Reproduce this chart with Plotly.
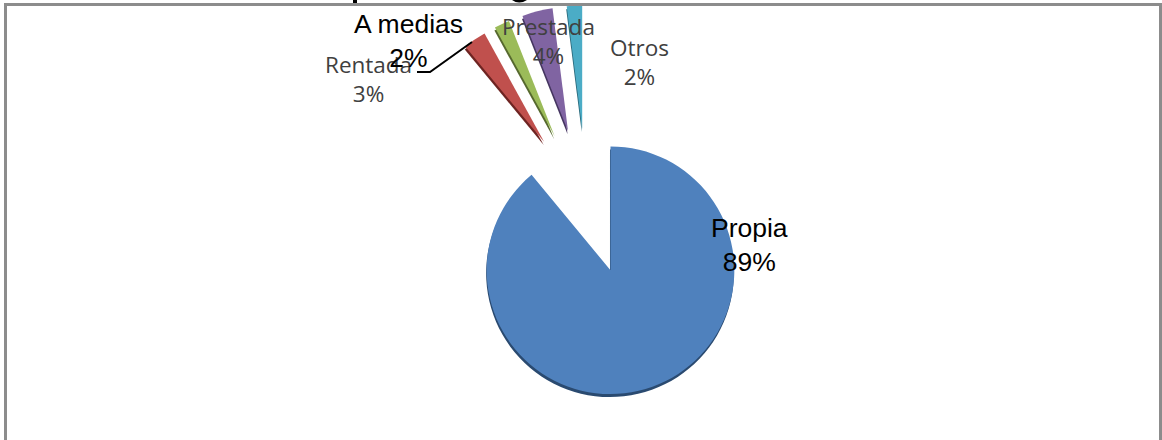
import plotly.graph_objects as go

labels = ["Propia", "Rentada", "A medias", "Prestada", "Otros"]
values = [89, 3, 2, 4, 2]
pulls = [0.56, 0.615, 0.615, 0.615, 0.615]
colors = ["#4f81bd", "#c0504d", "#9bbb59", "#8064a2", "#4bacc6"]
shadow_colors = ["#2a4a70", "#6e2422", "#56692e", "#453560", "#2a6a7c"]

W = 1162
H = 440


def pie_domain(cx, cy, half):
    return {
        "x": [(cx - half) / W, (cx + half) / W],
        "y": [1 - (cy + half) / H, 1 - (cy - half) / H],
    }


def pie_trace(colours, cx, cy):
    return go.Pie(
        labels=labels,
        values=values,
        pull=pulls,
        sort=False,
        direction="clockwise",
        rotation=0,
        textinfo="none",
        hoverinfo="label+percent",
        showlegend=False,
        marker={"colors": colours, "line": {"width": 0}},
        domain=pie_domain(cx, cy, 200),
    )


fig = go.Figure()
# Note the darker copy sits a little lower and gives the bevel edge
fig.add_trace(pie_trace(shadow_colors, 586.5, 208))
fig.add_trace(pie_trace(colors, 587, 205))


def label(name, value, x, y, size, font, color):
    fig.add_annotation(
        x=x / W, y=1 - y / H, xref="paper", yref="paper",
        text=f"{name}<br>{value}%", showarrow=False,
        font={"size": size, "family": font, "color": color},
        align="center", xanchor="center", yanchor="middle",
    )


label("Propia", values[0], 749, 245, 26.5, "Liberation Sans", "#000000")
label("Rentada", values[1], 368, 79, 22.5, "Open Sans", "#404040")
label("A medias", values[2], 409, 41, 26.5, "Liberation Sans", "#000000")
label("Prestada", values[3], 548, 41, 22.5, "Open Sans", "#404040")
label("Otros", values[4], 639, 62, 22.5, "Open Sans", "#404040")

# Note leader line of the Rentada label
fig.add_shape(
    type="path", path="M 417 72 L 430 72 L 472 42",
    xref="x", yref="y", line={"color": "#000000", "width": 2},
)
# Note frame of the picture, open at the bottom
fig.add_shape(
    type="path", path="M 5.5 440 L 5.5 4.5 L 1160.5 4.5 L 1160.5 440",
    xref="x", yref="y", line={"color": "#8c8c8c", "width": 3},
)
# Note only the descenders of the cropped title are left above the frame
fig.add_shape(type="rect", x0=353, x1=357, y0=0, y1=3,
              xref="x", yref="y", fillcolor="#000000", line={"width": 0})
fig.add_shape(type="path", path="M 512 0 Q 519 5 527 0 Z",
              xref="x", yref="y", fillcolor="#000000", line={"width": 0})

fig.update_layout(
    width=W,
    height=H,
    margin={"l": 0, "r": 0, "t": 0, "b": 0},
    paper_bgcolor="#ffffff",
    plot_bgcolor="#ffffff",
    xaxis={"range": [0, W], "visible": False, "fixedrange": True},
    yaxis={"range": [H, 0], "visible": False, "fixedrange": True},
)

# Note browser default body margin would push the chart off the window
fig.write_html(
    "out.html",
    config={"displayModeBar": False},
    post_script="document.body.style.margin='0';document.body.style.overflow='hidden';",
)
